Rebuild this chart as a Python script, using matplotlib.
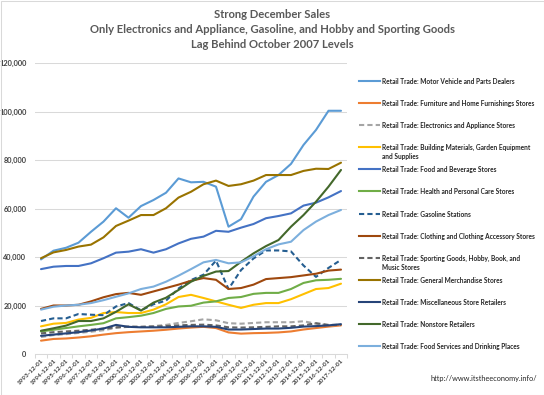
import numpy as np
import matplotlib
matplotlib.use("Agg")
import matplotlib.pyplot as plt
from matplotlib.lines import Line2D
from matplotlib.patches import Rectangle
from matplotlib.ticker import FuncFormatter

plt.rcParams['font.family'] = ['Lato', 'DejaVu Sans']

years = [f"{y}-12-01" for y in range(1993, 2018)]

# December sales, thousands of dollars
motor = [39.0, 42.6, 43.8, 45.9, 50.4, 54.6, 60.1, 56.2, 61.0, 63.5, 66.5, 72.4, 70.8,
         71.0, 69.0, 52.5, 55.6, 64.9, 71.0, 73.8, 78.4, 86.2, 92.4, 100.3, 100.3]
furniture = [5.5, 6.2, 6.4, 6.8, 7.3, 8.0, 8.6, 9.0, 9.3, 9.6, 10.0, 10.5, 10.9,
             11.2, 10.7, 8.9, 8.4, 8.6, 8.7, 8.9, 9.3, 10.1, 10.7, 11.3, 11.8]
electronics = [7.0, 7.8, 8.2, 8.7, 9.2, 9.8, 10.8, 11.2, 11.2, 11.5, 12.0, 12.8, 13.5,
               14.3, 13.9, 12.7, 12.5, 12.8, 13.1, 13.1, 13.1, 13.5, 12.5, 11.8, 12.0]
building = [11.4, 12.5, 12.8, 14.2, 14.9, 16.9, 17.3, 16.9, 16.9, 18.3, 20.5, 23.5, 24.4,
            23.1, 21.7, 20.3, 19.0, 20.3, 21.0, 21.0, 22.6, 24.7, 26.8, 27.2, 29.0]
food_bev = [35.0, 36.0, 36.3, 36.3, 37.4, 39.5, 41.8, 42.2, 43.2, 41.8, 43.2, 45.6, 47.5,
            48.4, 50.8, 50.4, 52.1, 53.6, 56.0, 56.9, 58.0, 61.2, 62.4, 64.6, 67.2]
health = [9.3, 10.0, 10.7, 11.4, 12.0, 12.7, 14.7, 15.2, 15.8, 16.9, 18.6, 19.6, 19.9,
          21.2, 21.7, 23.1, 23.5, 24.8, 25.2, 25.2, 26.8, 29.3, 30.4, 30.6, 31.0]
gasoline = [13.6, 14.7, 14.7, 16.5, 16.2, 16.0, 19.6, 21.0, 18.0, 20.5, 22.0, 27.0, 30.5,
            32.7, 38.5, 26.8, 34.6, 39.4, 42.7, 42.7, 42.3, 36.5, 31.8, 35.5, 38.8]
clothing = [18.6, 20.0, 20.0, 20.3, 21.7, 23.4, 24.7, 25.2, 24.4, 25.8, 27.2, 28.6, 30.2,
            31.3, 30.6, 26.8, 27.2, 28.6, 30.9, 31.3, 31.7, 32.4, 33.1, 34.4, 34.8]
sporting = [8.5, 9.0, 9.3, 9.6, 10.0, 10.5, 11.0, 11.3, 11.2, 11.3, 11.5, 11.8, 12.0,
            12.1, 11.8, 11.0, 10.9, 11.0, 11.2, 11.4, 11.4, 11.8, 12.7, 12.0, 12.0]
general = [39.5, 41.9, 42.9, 44.3, 45.1, 48.1, 52.8, 55.0, 57.3, 57.3, 60.1, 64.5, 66.9,
           70.0, 71.5, 69.3, 70.0, 71.5, 73.8, 73.8, 73.8, 75.5, 76.4, 76.3, 78.9]
misc = [7.5, 8.0, 8.5, 9.0, 9.7, 10.5, 12.0, 11.2, 11.0, 11.0, 11.0, 11.2, 11.4,
        11.4, 11.2, 10.1, 10.1, 10.3, 10.5, 10.5, 10.8, 11.3, 11.5, 11.8, 12.3]
nonstore = [9.6, 10.6, 11.7, 13.6, 13.6, 14.7, 17.4, 20.5, 17.9, 21.2, 23.2, 26.4, 29.8,
            32.2, 34.0, 34.2, 38.0, 41.5, 44.5, 47.0, 52.5, 57.3, 62.8, 69.0, 75.9]
food_serv = [18.3, 19.5, 20.0, 20.3, 21.0, 22.2, 23.6, 25.0, 26.8, 27.8, 29.8, 32.3, 35.0,
             37.8, 38.8, 37.4, 37.8, 40.3, 43.2, 45.2, 46.3, 51.1, 54.6, 57.3, 59.4]

labels = [
    "Retail Trade: Motor Vehicle and Parts Dealers",
    "Retail Trade: Furniture and Home Furnishings Stores",
    "Retail Trade: Electronics and Appliance Stores",
    "Retail Trade: Building Materials, Garden Equipment\nand Supplies",
    "Retail Trade: Food and Beverage Stores",
    "Retail Trade: Health and Personal Care Stores",
    "Retail Trade: Gasoline Stations",
    "Retail Trade: Clothing and Clothing Accessory Stores",
    "Retail Trade: Sporting Goods, Hobby, Book, and\nMusic Stores",
    "Retail Trade: General Merchandise Stores",
    "Retail Trade: Miscellaneous Store Retailers",
    "Retail Trade: Nonstore Retailers",
    "Retail Trade: Food Services and Drinking Places",
]
series = [motor, furniture, electronics, building, food_bev, health, gasoline,
          clothing, sporting, general, misc, nonstore, food_serv]
colors = ["#5B9BD5", "#ED7D31", "#A5A5A5", "#FFC000", "#4472C4", "#70AD47", "#255E91",
          "#9E480E", "#636363", "#997300", "#264478", "#43682B", "#7CAFDD"]
dashed = [False, False, True, False, False, False, True, False, True, False, False, False, False]

W, H = 544, 395
fig = plt.figure(figsize=(W / 100, H / 100), dpi=100)
ax = fig.add_axes([34.75 / W, 1 - 354 / H, 312.5 / W, 291 / H])

x = np.arange(len(years))
dash = (0, (2.5, 1.5))
for vals, c, d in zip(series, colors, dashed):
    ax.plot(x, np.array(vals) * 1000, color=c, lw=1.5,
            linestyle=dash if d else '-', solid_capstyle='round')

ax.set_xlim(-0.5, len(years) - 0.5)
ax.set_ylim(0, 120000)
ax.set_yticks(range(0, 120001, 20000))
ax.yaxis.set_major_formatter(FuncFormatter(lambda v, p: f"{int(v):,}"))
ax.grid(axis='y', color='#D9D9D9', lw=0.75)
ax.set_axisbelow(True)
for s in ['top', 'right', 'left']:
    ax.spines[s].set_visible(False)
ax.spines['bottom'].set_color('#D9D9D9')
ax.spines['bottom'].set_linewidth(0.75)

ax.set_xticks(x)
ax.set_xticklabels(years, rotation=45, ha='right', rotation_mode='anchor',
                   fontsize=4.6, fontweight='bold', color='#404040')
ax.set_xticks(np.arange(-0.5, len(years)), minor=True)
ax.tick_params(axis='x', which='major', length=0, pad=3)
ax.tick_params(axis='x', which='minor', length=3, color='#D9D9D9', width=0.75)
ax.tick_params(axis='y', length=0, pad=6, labelsize=5.3, labelcolor='#404040')
for t in ax.get_yticklabels():
    t.set_fontweight('bold')

# title
title_lines = ["Strong December Sales",
               "Only Electronics and Appliance, Gasoline, and Hobby and Sporting Goods",
               "Lag Behind October 2007 Levels"]
for yy, line in zip([15, 29.5, 44], title_lines):
    fig.text(0.5, 1 - yy / H, line, ha='center', va='center', fontsize=8.1,
             fontweight='bold', color='#595959')

# legend drawn by hand to match the spacing of the original
leg_y = [81, 103, 125, 147, 169, 191, 214, 236, 258, 280, 302, 324, 346]
for yy, lab, c, d in zip(leg_y, labels, colors, dashed):
    fy = 1 - yy / H
    fig.add_artist(Line2D([359 / W, 380 / W], [fy, fy], color=c, lw=1.5,
                          linestyle=dash if d else '-'))
    fig.text(382 / W, fy + 3.3 / H, lab, ha='left', va='top', fontsize=4.7,
             fontweight='bold', color='#262626', linespacing=1.35)

fig.text(537 / W, 1 - 379 / H, "http://www.itstheeconomy.info/", ha='right', va='center',
         fontsize=5.3, color='#262626')

fig.add_artist(Rectangle((0.5 / W, 0.5 / H), 1 - 1 / W, 1 - 1 / H, transform=fig.transFigure,
                         fill=False, edgecolor='#D9D9D9', lw=0.75))

fig.savefig("out.png", dpi=100)
